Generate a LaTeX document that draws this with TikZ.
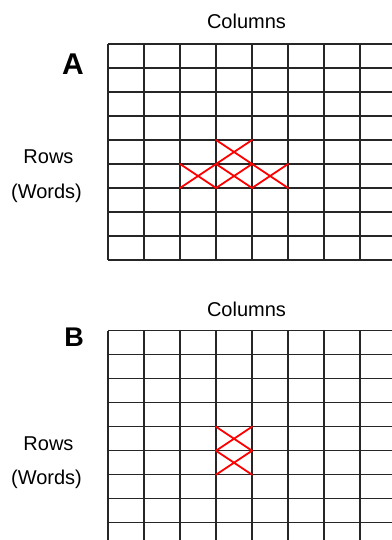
\documentclass[tikz,border=0pt]{standalone}
\usepackage{fontspec}
\setmainfont{Liberation Sans}
\begin{document}
\begin{tikzpicture}[x=1pt,y=-1pt,
  gridline/.style={black!85,line width=1.3pt},
  hit/.style={red,line width=1.8pt,line cap=round},
  lbl/.style={inner sep=0pt,anchor=base,font=\fontsize{20}{24}\selectfont},
  panel/.style={inner sep=0pt,anchor=base,font=\bfseries\fontsize{#1}{#1}\selectfont}]
\useasboundingbox (0,0) rectangle (391,540);
\fill[white] (0,0) rectangle (391,540);

% ---------- panel A ----------
\node[lbl] (colA) at (246.5,28.5) {Columns};
\node[panel=30] (labA) at (73,74.3) {A};
\node[lbl] (rowsA) at (48.5,163.3) {Rows};
\node[lbl] (wordsA) at (46.5,198) {(Words)};

\foreach \i in {0,...,9}
  \draw[gridline] (108,44+24*\i) -- (392,44+24*\i);
\foreach \j in {0,...,7}
  \draw[gridline] (108+36*\j,44) -- (108+36*\j,260);

% crossed cells
\foreach \cx/\cy in {216/140, 180/164, 216/164, 252/164}{
  \draw[hit] (\cx,\cy) -- (\cx+36,\cy+24);
  \draw[hit] (\cx+36,\cy) -- (\cx,\cy+24);
}

% ---------- panel B ----------
\node[lbl] (colB) at (246.5,316) {Columns};
\node[panel=27] (labB) at (74,346.7) {B};
\node[lbl] (rowsB) at (48.5,450.5) {Rows};
\node[lbl] (wordsB) at (46.5,484.5) {(Words)};

\foreach \i in {0,...,8}
  \draw[gridline] (108,330.7+24*\i) -- (392,330.7+24*\i);
\foreach \j in {0,...,7}
  \draw[gridline] (108+36*\j,330.7) -- (108+36*\j,541);

\foreach \cx/\cy in {216/426.7, 216/450.7}{
  \draw[hit] (\cx,\cy) -- (\cx+36,\cy+24);
  \draw[hit] (\cx+36,\cy) -- (\cx,\cy+24);
}
\end{tikzpicture}
\end{document}
